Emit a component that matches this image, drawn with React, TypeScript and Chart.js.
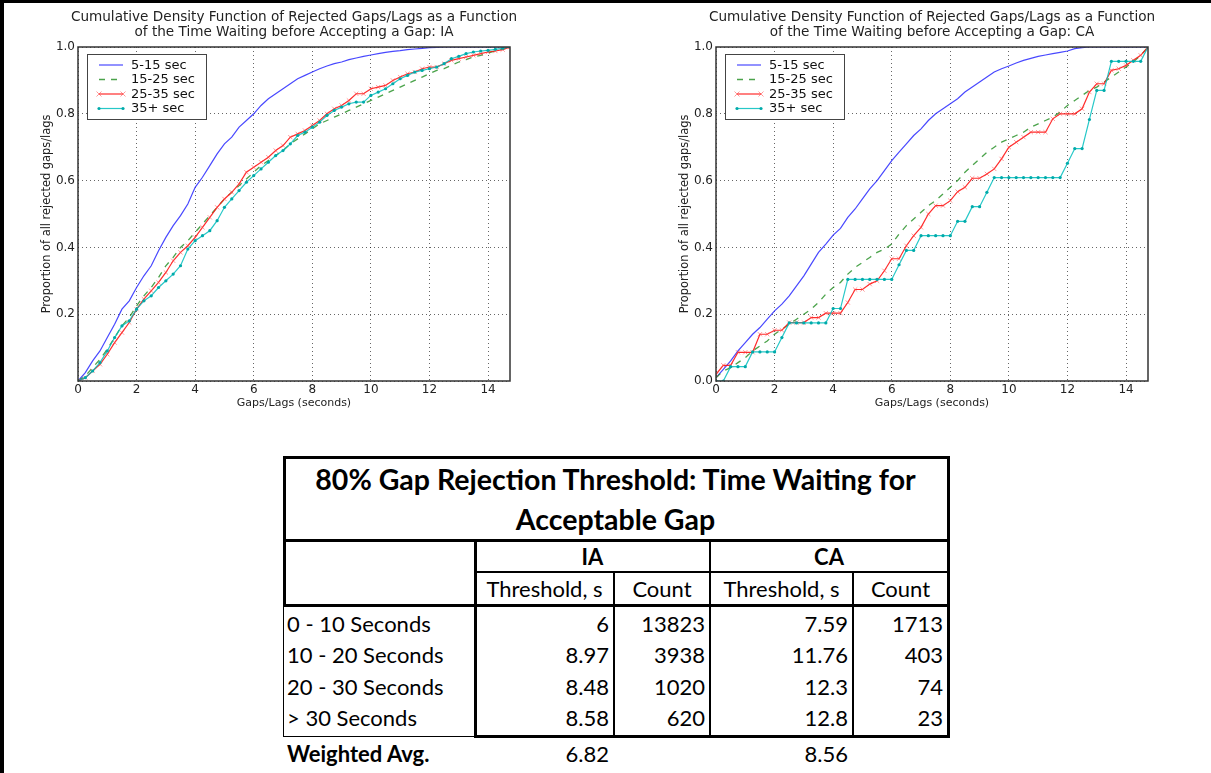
import React, { useEffect, useRef } from 'react';
import { Chart, registerables } from 'chart.js';

Chart.register(...registerables);

// ---------- chart data ----------
const GAP_SECONDS = [
  0, 0.25, 0.5, 0.75, 1, 1.25, 1.5, 1.75, 2, 2.25,
  2.5, 2.75, 3, 3.25, 3.5, 3.75, 4, 4.25, 4.5, 4.75,
  5, 5.25, 5.5, 5.75, 6, 6.25, 6.5, 6.75, 7, 7.25,
  7.5, 7.75, 8, 8.25, 8.5, 8.75, 9, 9.25, 9.5, 9.75,
  10, 10.25, 10.5, 10.75, 11, 11.25, 11.5, 11.75, 12, 12.25,
  12.5, 12.75, 13, 13.25, 13.5, 13.75, 14, 14.25, 14.5, 14.75,
];

const SERIES_LABELS = ['5-15 sec', '15-25 sec', '25-35 sec', '35+ sec'];

const IA_5_15 = [
  0, 0.025, 0.06, 0.09, 0.13, 0.17, 0.215, 0.24, 0.28, 0.315,
  0.345, 0.39, 0.43, 0.465, 0.495, 0.53, 0.58, 0.61, 0.645, 0.68,
  0.71, 0.73, 0.76, 0.78, 0.8, 0.825, 0.845, 0.86, 0.875, 0.89,
  0.905, 0.915, 0.925, 0.935, 0.943, 0.95, 0.955, 0.962, 0.967, 0.972,
  0.976, 0.98, 0.984, 0.987, 0.989, 0.992, 0.994, 0.996, 0.998, 0.999,
  1, 1, 1, 1, 1, 1, 1, 1, 1, 1,
];
const IA_15_25 = [
  0, 0.015, 0.04, 0.065, 0.095, 0.13, 0.165, 0.19, 0.225, 0.255,
  0.28, 0.31, 0.345, 0.37, 0.4, 0.42, 0.445, 0.47, 0.495, 0.52,
  0.545, 0.565, 0.585, 0.605, 0.625, 0.645, 0.66, 0.675, 0.69, 0.71,
  0.725, 0.74, 0.755, 0.77, 0.78, 0.79, 0.8, 0.81, 0.82, 0.83,
  0.84, 0.85, 0.86, 0.87, 0.88, 0.89, 0.9, 0.91, 0.92, 0.93,
  0.935, 0.945, 0.955, 0.962, 0.97, 0.975, 0.982, 0.988, 0.994, 1.0,
];
const IA_25_35 = [
  0, 0.01, 0.03, 0.05, 0.08, 0.115, 0.145, 0.175, 0.215, 0.245,
  0.27, 0.295, 0.325, 0.36, 0.385, 0.405, 0.43, 0.46, 0.49, 0.52,
  0.545, 0.565, 0.59, 0.625, 0.64, 0.655, 0.67, 0.69, 0.705, 0.73,
  0.74, 0.75, 0.765, 0.78, 0.8, 0.815, 0.825, 0.84, 0.86, 0.86,
  0.875, 0.88, 0.885, 0.9, 0.91, 0.92, 0.925, 0.935, 0.94, 0.94,
  0.95, 0.96, 0.965, 0.97, 0.975, 0.98, 0.985, 0.988, 0.992, 1.0,
];
const IA_35_PLUS = [
  0, 0.01, 0.03, 0.055, 0.09, 0.13, 0.165, 0.18, 0.215, 0.24,
  0.255, 0.28, 0.3, 0.32, 0.345, 0.395, 0.42, 0.435, 0.45, 0.48,
  0.52, 0.545, 0.57, 0.595, 0.615, 0.635, 0.655, 0.675, 0.69, 0.71,
  0.735, 0.745, 0.76, 0.775, 0.795, 0.81, 0.82, 0.83, 0.835, 0.835,
  0.855, 0.865, 0.875, 0.89, 0.905, 0.915, 0.925, 0.93, 0.935, 0.94,
  0.95, 0.965, 0.972, 0.98, 0.985, 0.988, 0.99, 0.993, 0.996, 1.0,
];

const CA_5_15 = [
  0.01, 0.035, 0.06, 0.09, 0.115, 0.14, 0.16, 0.185, 0.21, 0.23,
  0.255, 0.285, 0.315, 0.35, 0.385, 0.41, 0.437, 0.457, 0.49, 0.515,
  0.545, 0.575, 0.6, 0.63, 0.66, 0.685, 0.71, 0.735, 0.755, 0.78,
  0.8, 0.815, 0.83, 0.845, 0.865, 0.88, 0.895, 0.91, 0.925, 0.935,
  0.943, 0.952, 0.96, 0.966, 0.972, 0.976, 0.98, 0.984, 0.988, 0.995,
  0.998, 1, 1, 1, 1, 1, 1, 1, 1, 1,
];
const CA_15_25 = [
  0.01, 0.03, 0.04, 0.055, 0.07, 0.09, 0.105, 0.12, 0.14, 0.155,
  0.17, 0.185, 0.2, 0.215, 0.235, 0.26, 0.28, 0.295, 0.32, 0.34,
  0.355, 0.37, 0.385, 0.395, 0.41, 0.44, 0.465, 0.485, 0.505, 0.525,
  0.54, 0.56, 0.58, 0.6, 0.625, 0.645, 0.665, 0.685, 0.7, 0.715,
  0.725, 0.735, 0.745, 0.76, 0.77, 0.78, 0.79, 0.805, 0.825, 0.84,
  0.855, 0.87, 0.88, 0.895, 0.91, 0.925, 0.94, 0.955, 0.975, 1.0,
];
const CA_25_35 = [
  0.02, 0.047, 0.047, 0.086, 0.086, 0.086, 0.14, 0.14, 0.152, 0.152,
  0.175, 0.175, 0.175, 0.19, 0.19, 0.203, 0.203, 0.203, 0.235, 0.274,
  0.274, 0.29, 0.3, 0.33, 0.366, 0.366, 0.405, 0.435, 0.46, 0.5,
  0.525, 0.525, 0.54, 0.567, 0.58, 0.607, 0.607, 0.62, 0.635, 0.665,
  0.7, 0.715, 0.73, 0.745, 0.745, 0.745, 0.785, 0.8, 0.8, 0.8,
  0.815, 0.865, 0.89, 0.89, 0.93, 0.935, 0.945, 0.96, 0.975, 1.0,
];
const CA_35_PLUS = [
  0, 0, 0.043, 0.043, 0.043, 0.087, 0.087, 0.087, 0.087, 0.13,
  0.174, 0.174, 0.174, 0.174, 0.174, 0.174, 0.217, 0.217, 0.304, 0.304,
  0.304, 0.304, 0.304, 0.304, 0.304, 0.348, 0.391, 0.391, 0.435, 0.435,
  0.435, 0.435, 0.435, 0.478, 0.478, 0.522, 0.522, 0.565, 0.609, 0.609,
  0.609, 0.609, 0.609, 0.609, 0.609, 0.609, 0.609, 0.609, 0.652, 0.696,
  0.696, 0.783, 0.87, 0.87, 0.957, 0.957, 0.957, 0.957, 0.957, 1.0,
];

const X_TICKS = [0, 2, 4, 6, 8, 10, 12, 14];
const Y_TICKS = [0, 0.2, 0.4, 0.6, 0.8, 1.0];
const TITLE_IA = [
  'Cumulative Density Function of Rejected Gaps/Lags as a Function',
  'of the Time Waiting before Accepting a Gap: IA',
];
const TITLE_CA = [
  'Cumulative Density Function of Rejected Gaps/Lags as a Function',
  'of the Time Waiting before Accepting a Gap: CA',
];
const X_LABEL = 'Gaps/Lags (seconds)';
const Y_LABEL = 'Proportion of all rejected gaps/lags';

// ---------- table data ----------
const TABLE_TITLE = ['80% Gap Rejection Threshold: Time Waiting for', 'Acceptable Gap'];
const REGIONS = ['IA', 'CA'];
const SUB_HEADERS = ['Threshold, s', 'Count'];
const WAIT_BINS = ['0 - 10 Seconds', '10 - 20 Seconds', '20 - 30 Seconds', '> 30 Seconds'];
const IA_THRESHOLD = ['6', '8.97', '8.48', '8.58'];
const IA_COUNT = ['13823', '3938', '1020', '620'];
const CA_THRESHOLD = ['7.59', '11.76', '12.3', '12.8'];
const CA_COUNT = ['1713', '403', '74', '23'];
const WEIGHTED_LABEL = 'Weighted Avg.';
const WEIGHTED_AVG = ['6.82', '8.56'];

const FONT = '"DejaVu Sans", sans-serif';

const SERIES_STYLES = [
  { borderColor: 'rgba(40,40,255,0.85)', borderWidth: 1.2, pointRadius: 0, order: 3, marker: 'none' },
  { borderColor: 'rgba(30,140,30,0.8)', borderWidth: 1.3, borderDash: [6, 6], pointRadius: 0, order: 2, marker: 'none' },
  {
    borderColor: 'rgba(255,20,20,0.9)', borderWidth: 1.2, pointRadius: 3, pointStyle: 'crossRot',
    pointBorderColor: 'rgba(255,70,70,0.55)', pointBorderWidth: 1, order: 1, marker: 'cross',
  },
  {
    borderColor: 'rgba(0,190,190,0.85)', borderWidth: 1.2, pointRadius: 1.6, pointStyle: 'circle',
    pointBackgroundColor: 'rgba(0,170,170,1)', pointBorderWidth: 0, order: 0, marker: 'dot',
  },
];

const framePlugin = {
  id: 'frameTitleLegend',
  afterDraw(chart: any) {
    const { ctx, chartArea } = chart;
    const opts = chart.options.plugins.frameTitleLegend || {};
    const { left, right, top, bottom } = chartArea;
    ctx.save();
    // frame
    ctx.strokeStyle = '#333';
    ctx.lineWidth = 1.5;
    ctx.strokeRect(left, top, right - left, bottom - top);
    // title
    ctx.fillStyle = '#222';
    ctx.font = `13.6px ${FONT}`;
    ctx.textAlign = 'center';
    ctx.textBaseline = 'middle';
    (opts.title || []).forEach((line: string, i: number) => {
      ctx.fillText(line, (left + right) / 2, 17.5 + i * 15);
    });
    // legend
    const bx = left + 9, by = top + 7, bw = 119, bh = 65;
    ctx.fillStyle = '#fff';
    ctx.fillRect(bx, by, bw, bh);
    ctx.strokeStyle = '#444';
    ctx.lineWidth = 1;
    ctx.strokeRect(bx + 0.5, by + 0.5, bw, bh);
    chart.data.datasets.forEach((ds: any, i: number) => {
      const cy = by + 11 + i * 14.5;
      const x1 = bx + 12, x2 = bx + 36;
      ctx.strokeStyle = ds.borderColor;
      ctx.lineWidth = ds.borderWidth;
      ctx.setLineDash(ds.borderDash || []);
      ctx.beginPath();
      ctx.moveTo(x1, cy);
      ctx.lineTo(x2, cy);
      ctx.stroke();
      ctx.setLineDash([]);
      if (ds.marker === 'cross') {
        ctx.strokeStyle = ds.pointBorderColor;
        ctx.lineWidth = 1;
        [x1, x2].forEach((mx) => {
          ctx.beginPath();
          ctx.moveTo(mx - 2.5, cy - 2.5); ctx.lineTo(mx + 2.5, cy + 2.5);
          ctx.moveTo(mx - 2.5, cy + 2.5); ctx.lineTo(mx + 2.5, cy - 2.5);
          ctx.stroke();
        });
      } else if (ds.marker === 'dot') {
        ctx.fillStyle = ds.pointBackgroundColor;
        [x1, x2].forEach((mx) => {
          ctx.beginPath();
          ctx.arc(mx, cy, 1.6, 0, Math.PI * 2);
          ctx.fill();
        });
      }
      ctx.fillStyle = '#111';
      ctx.font = `13px ${FONT}`;
      ctx.textAlign = 'left';
      ctx.textBaseline = 'middle';
      ctx.fillText(ds.label, bx + 44, cy + 0.5);
    });
    ctx.restore();
  },
};

function CdfChart({ title, series, hideZero, left }: { title: string[]; series: number[][]; hideZero: boolean; left: number }) {
  const ref = useRef<HTMLCanvasElement>(null);
  useEffect(() => {
    const canvas = ref.current!;
    const chart = new Chart(canvas, {
      type: 'line',
      data: {
        datasets: series.map((vals, i) => ({
          label: SERIES_LABELS[i],
          data: GAP_SECONDS.map((x, j) => ({ x, y: vals[j] })),
          fill: false,
          tension: 0,
          ...SERIES_STYLES[i],
        })) as any,
      },
      options: {
        animation: false,
        responsive: false,
        maintainAspectRatio: false,
        layout: { padding: { top: 47, right: 10, left: 0, bottom: 0 } },
        plugins: {
          legend: { display: false },
          tooltip: { enabled: false },
          frameTitleLegend: { title },
        } as any,
        scales: {
          x: {
            type: 'linear',
            min: 0,
            max: 14.75,
            afterBuildTicks: (s: any) => { s.ticks = X_TICKS.map((v) => ({ value: v })); },
            afterFit: (s: any) => { s.height = 39; },
            ticks: { font: { family: FONT, size: 12 }, color: '#222', padding: 2, maxRotation: 0, autoSkip: false, callback: (v: any) => String(v) },
            grid: { color: 'rgba(0,0,0,0.6)', lineWidth: 1, drawTicks: false },
            border: { display: false, dash: [1, 3] },
            title: { display: true, text: X_LABEL, font: { family: FONT, size: 11 }, color: '#222', padding: { top: 0, bottom: 10 } },
          },
          y: {
            type: 'linear',
            min: 0,
            max: 1,
            afterBuildTicks: (s: any) => { s.ticks = Y_TICKS.map((v) => ({ value: v })); },
            afterFit: (s: any) => { s.width = 48; },
            ticks: {
              font: { family: FONT, size: 12 }, color: '#222', padding: 3, autoSkip: false,
              callback: (v: any) => (hideZero && Number(v) === 0 ? '' : Number(v).toFixed(1)),
            },
            grid: { color: 'rgba(0,0,0,0.6)', lineWidth: 1, drawTicks: false },
            border: { display: false, dash: [1, 3] },
            title: { display: true, text: Y_LABEL, font: { family: FONT, size: 11.4 }, color: '#222', padding: { top: 10, bottom: 0 } },
          },
        },
      } as any,
      plugins: [framePlugin],
    });
    return () => chart.destroy();
  }, []);
  return (
    <canvas
      ref={ref}
      width={490}
      height={420}
      style={{ position: 'absolute', left, top: 0, width: 490, height: 420 }}
    />
  );
}

const TFONT = 'Lato, "Open Sans", sans-serif';

function HLine({ x1, x2, y, t }: { x1: number; x2: number; y: number; t: number }) {
  return <div style={{ position: 'absolute', left: x1, top: y - t / 2, width: x2 - x1, height: t, background: '#000' }} />;
}
function VLine({ x, y1, y2, t }: { x: number; y1: number; y2: number; t: number }) {
  return <div style={{ position: 'absolute', left: x - t / 2, top: y1, width: t, height: y2 - y1, background: '#000' }} />;
}

function Cell({ x1, x2, cy, text, align, bold, size }: { x1: number; x2: number; cy: number; text: string; align: 'left' | 'right' | 'center'; bold?: boolean; size?: number }) {
  return (
    <div
      style={{
        position: 'absolute', left: x1, width: x2 - x1, top: cy - 18, height: 36, lineHeight: '36px',
        textAlign: align, fontFamily: TFONT, fontSize: size || 22, fontWeight: bold ? 700 : 400,
        color: '#000', whiteSpace: 'nowrap',
      }}
    >
      {text}
    </div>
  );
}

function GapTable() {
  const L = 283, R = 948, C1 = 475, C2 = 614, C3 = 710, C4 = 853;
  const T = 457, Y1 = 540, Y2 = 572, Y3 = 605, B = 736;
  const rowCy = [623.5, 655, 686.8, 718];
  return (
    <>
      <HLine x1={L} x2={R + 1.5} y={T} t={3} />
      <HLine x1={L} x2={R + 1.5} y={Y1} t={3} />
      <HLine x1={C1} x2={R} y={Y2} t={1.5} />
      <HLine x1={L} x2={R + 1.5} y={Y3} t={3} />
      <HLine x1={C1} x2={R + 1.5} y={B} t={3} />
      <HLine x1={L} x2={C1} y={B + 0.5} t={1.5} />
      <VLine x={L + 1} y1={T} y2={Y3} t={3} />
      <VLine x={L + 0.5} y1={Y3} y2={B + 1} t={1.5} />
      <VLine x={R} y1={T} y2={B + 1.5} t={3} />
      <VLine x={C1} y1={Y1} y2={B + 1.5} t={3} />
      <VLine x={C3} y1={Y1} y2={B} t={2} />
      <VLine x={C2} y1={Y2} y2={B} t={1.5} />
      <VLine x={C4} y1={Y2} y2={B} t={1.5} />

      {TABLE_TITLE.map((line, i) => (
        <Cell key={line} x1={L} x2={R} cy={479 + i * 40} text={line} align="center" bold size={28.5} />
      ))}
      <Cell x1={C1} x2={C3} cy={556.5} text={REGIONS[0]} align="center" bold />
      <Cell x1={C3} x2={R} cy={556.5} text={REGIONS[1]} align="center" bold />
      <Cell x1={C1} x2={C2} cy={589} text={SUB_HEADERS[0]} align="center" />
      <Cell x1={C2} x2={C3} cy={589} text={SUB_HEADERS[1]} align="center" />
      <Cell x1={C3} x2={C4} cy={589} text={SUB_HEADERS[0]} align="center" />
      <Cell x1={C4} x2={R} cy={589} text={SUB_HEADERS[1]} align="center" />

      {WAIT_BINS.map((bin, i) => (
        <React.Fragment key={bin}>
          <Cell x1={L + 4} x2={C1} cy={rowCy[i]} text={bin} align="left" />
          <Cell x1={C1} x2={609} cy={rowCy[i]} text={IA_THRESHOLD[i]} align="right" />
          <Cell x1={C2} x2={705} cy={rowCy[i]} text={IA_COUNT[i]} align="right" />
          <Cell x1={C3} x2={848} cy={rowCy[i]} text={CA_THRESHOLD[i]} align="right" />
          <Cell x1={C4} x2={943} cy={rowCy[i]} text={CA_COUNT[i]} align="right" />
        </React.Fragment>
      ))}
      <Cell x1={L + 4} x2={C1} cy={754} text={WEIGHTED_LABEL} align="left" bold />
      <Cell x1={C1} x2={609} cy={754} text={WEIGHTED_AVG[0]} align="right" />
      <Cell x1={C3} x2={848} cy={754} text={WEIGHTED_AVG[1]} align="right" />
    </>
  );
}

export default function App() {
  return (
    <div style={{ position: 'absolute', left: 0, top: 0, width: 1211, height: 773, background: '#fff', overflow: 'hidden' }}>
      <div style={{ position: 'absolute', left: 0, top: 0, width: 1211, height: 3, background: '#000' }} />
      <div style={{ position: 'absolute', left: 0, top: 0, width: 4, height: 773, background: '#000' }} />
      <CdfChart title={TITLE_IA} series={[IA_5_15, IA_15_25, IA_25_35, IA_35_PLUS]} hideZero left={30} />
      <CdfChart title={TITLE_CA} series={[CA_5_15, CA_15_25, CA_25_35, CA_35_PLUS]} hideZero={false} left={668} />
      <GapTable />
    </div>
  );
}
